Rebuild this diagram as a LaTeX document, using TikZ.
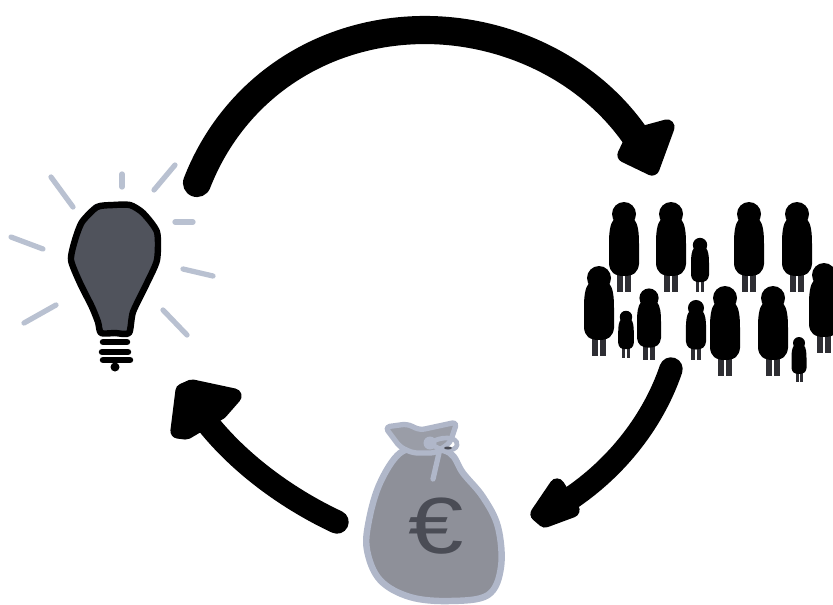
\documentclass[tikz,border=0pt]{standalone}
\usepackage{fontspec}
\setmainfont{Liberation Sans}
\definecolor{bulbgrey}{HTML}{50535C}
\definecolor{raygrey}{HTML}{B9C1D1}
\definecolor{baggrey}{HTML}{8E9099}
\definecolor{bagedge}{HTML}{B0B7C9}
\definecolor{bagtop}{HTML}{9A9DA7}
\definecolor{eurogrey}{HTML}{4A4C55}
\definecolor{leggrey}{HTML}{2E2E33}
\usetikzlibrary{arrows.meta, positioning, calc}

\newcommand{\crowdperson}[3]{%
  \begin{scope}[shift={(#1,#2)}, scale=#3]
    \fill[leggrey] (-7,58) rectangle (-1,78);
    \fill[leggrey] (1,58) rectangle (7,78);
    \fill[black] (0,0) circle (12);
    \fill[black] (-10,5) .. controls (-14,10) and (-15,18) .. (-15,30)
      -- (-15,50) .. controls (-14,58) and (-10,62) .. (0,62)
      .. controls (10,62) and (14,58) .. (15,50) -- (15,30)
      .. controls (15,18) and (14,10) .. (10,5) -- cycle;
  \end{scope}}

\begin{document}
\begin{tikzpicture}[x=0.03cm, y=-0.03cm,
  loopline/.style={line width=24pt, line cap=round, black},
  loophead/.style={fill=black, draw=black, line width=13pt, line join=round},
  rayline/.style={line width=4.5pt, line cap=round, raygrey},
]
  \useasboundingbox (0,0) rectangle (833,604);

  \coordinate (topstart) at (197,183);
  \coordinate (toppeak) at (425,30);
  \coordinate (topend) at (640,143);
  \coordinate (rightstart) at (671,369);
  \coordinate (rightend) at (565,502);
  \coordinate (leftstart) at (337,522);
  \coordinate (leftend) at (205,420);

  % arrows
  \draw[loopline] (topstart) .. controls (234,88) and (323,30) .. (toppeak)
    .. controls (509,30) and (594,71) .. (topend);
  \draw[loophead] (667,127) -- (652,168) -- (625,155) -- (634,136) -- cycle;
  \draw[loopline, line width=20pt] (rightstart) .. controls (652,425) and (612,472) .. (rightend);
  \draw[loophead] (557,486) -- (538,514) -- (545,520) -- (572,510) -- cycle;
  \draw[loopline, line width=20pt] (leftstart) .. controls (290,500) and (240,465) .. (leftend);
  \draw[loophead] (234,396) -- (220,412) -- (186,432) -- (178,431) -- (183,391) -- (192,387) -- cycle;

  % bulb
  \foreach \xa/\ya/\xb/\yb in {51/177/73/207, 122/174/122/187, 175/165/154/190,
      175/222/193/222, 183/269/213/276, 163/310/187/335, 56/305/24/323, 11/237/43/249}
    \draw[rayline] (\xa,\ya) -- (\xb,\yb);
  \draw[fill=bulbgrey, line width=5.5pt, line join=round]
    plot[smooth cycle, tension=0.4] coordinates {(113,205) (97,207) (82,222) (75,240) (71,260)
      (80,283) (92,307) (98,322) (101,333) (115,333) (129,333) (133,312) (147,283) (157,260) (157,232) (143,213) (130,205)};
  \foreach \ya/\xa/\xb in {342/103/127, 352/102/128, 360/103/130}
    \draw[line width=5.5pt, line cap=round] (\xa,\ya) -- (\xb,\ya);
  \fill (115,367) circle (4.5);

  % crowd
  \foreach \xa/\ya/\sz in {624/214/1, 671/214/1, 700/245/0.6, 749/214/1, 797/214/1,
      599/278/1, 626/317/0.52, 649/298/0.8, 696/308/0.67, 725/298/1, 773/298/1,
      799/343/0.5, 824/275/1}
    {\crowdperson{\xa}{\ya}{\sz}}

  % bag
  \draw[fill=baggrey, draw=bagedge, line width=5.5pt, line join=round]
    plot[smooth cycle, tension=0.6] coordinates {(400,453) (380,483) (369,520) (367,550) (380,580)
      (410,597) (450,601) (488,595) (501,567) (498,527) (483,497) (463,473) (450,453) (425,448)};
  \draw[fill=bagtop, draw=bagedge, line width=4.5pt, line join=round, rounded corners=4pt]
    (385,427) -- (407,424) -- (420,430) -- (457,422) -- (450,443) -- (435,453) -- (413,453) -- (400,447) -- cycle;
  \draw[bagedge, line width=4.5pt, line cap=round] (439,453) -- (433,479);
  \draw[bagedge, line width=4pt] (430,443) .. controls (440,436) and (458,436) .. (457,445)
    .. controls (456,452) and (440,452) .. (430,443);
  \fill[bagedge] (430,443) circle (6.5);
  \fill[eurogrey] (448,448) ellipse (4 and 1.5);
  \node[text=eurogrey, font=\fontsize{68}{68}\selectfont] (euro) at (436,526) {\scalebox{1.25}[1]{€}};
\end{tikzpicture}
\end{document}
